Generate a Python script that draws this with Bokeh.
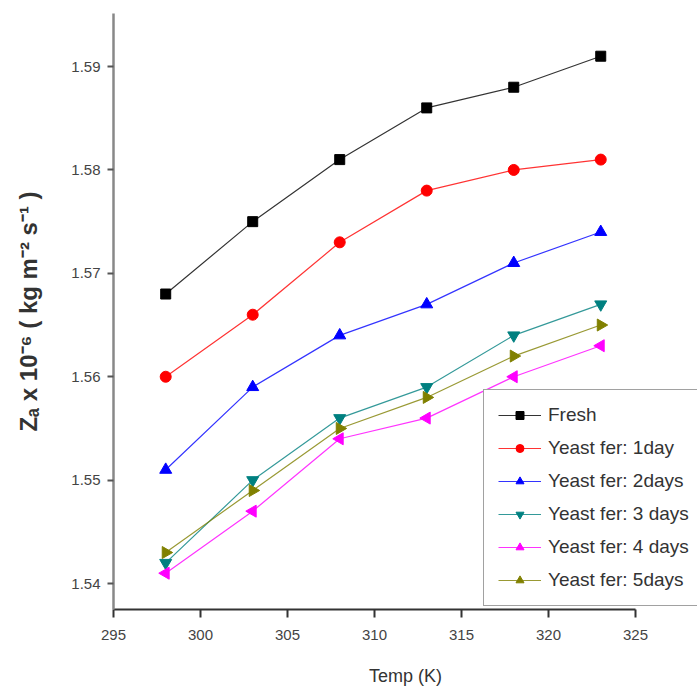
import math
from bokeh.plotting import figure
from bokeh.models import Legend, LegendItem, Range1d, FixedTicker
from bokeh.embed import file_html
from bokeh.resources import INLINE

temps = [298, 303, 308, 313, 318, 323]
fresh = [1.568, 1.575, 1.581, 1.586, 1.588, 1.591]
day1 = [1.560, 1.566, 1.573, 1.578, 1.580, 1.581]
day2 = [1.551, 1.559, 1.564, 1.567, 1.571, 1.574]
day3 = [1.542, 1.550, 1.556, 1.559, 1.564, 1.567]
day4 = [1.541, 1.547, 1.554, 1.556, 1.560, 1.563]
day5 = [1.543, 1.549, 1.555, 1.558, 1.562, 1.565]
series_labels = ["Fresh", "Yeast fer: 1day", "Yeast fer: 2days",
                 "Yeast fer: 3 days", "Yeast fer: 4 days", "Yeast fer: 5days"]
x_ticks = [295, 300, 305, 310, 315, 320, 325]
y_ticks = [1.54, 1.55, 1.56, 1.57, 1.58, 1.59]

FONT = "Liberation Sans"

p = figure(width=697, height=694, output_backend="svg", toolbar_location=None,
           x_range=Range1d(295, 328.56), y_range=Range1d(1.53749, 1.59513),
           min_border_left=113, min_border_right=0, min_border_top=13,
           min_border_bottom=85)
p.grid.visible = False
p.outline_line_color = None
p.background_fill_color = "white"
p.border_fill_color = "white"

styles = [
    (fresh, "#000000", "square", 0.0, 10),
    (day1, "#ff0000", "circle", 0.0, 11),
    (day2, "#0000ff", "triangle", 0.0, 12),
    (day3, "#008080", "inverted_triangle", 0.0, 12),
    (day4, "#ff00ff", "triangle", math.pi / 2, 12),
    (day5, "#808000", "triangle", -math.pi / 2, 12),
]

items = []
for (vals, col, mk, ang, sz), lab in zip(styles, series_labels):
    lr = p.line(temps, vals, line_color=col, line_width=1.2, line_alpha=0.8)
    sr = p.scatter(temps, vals, marker=mk, size=sz, angle=ang,
                   fill_color=col, line_color=col)
    items.append(LegendItem(label=lab, renderers=[lr, sr]))

legend = Legend(items=items, location=(370, 3), margin=0, padding=14,
                spacing=11, glyph_width=43, glyph_height=20, label_height=20,
                label_width=150, label_standoff=7,
                border_line_color="#444444", border_line_width=1.5,
                background_fill_color="white", background_fill_alpha=1.0,
                label_text_font=FONT, label_text_font_size="19px",
                label_text_color="#333333")
p.add_layout(legend, "center")

xa = p.xaxis[0]
xa.ticker = FixedTicker(ticks=x_ticks)
xa.bounds = (295, 325)
xa.axis_line_color = "#333333"
xa.axis_line_width = 2
xa.major_tick_line_color = "#333333"
xa.major_tick_line_width = 2
xa.major_tick_out = 8
xa.major_tick_in = 0
xa.minor_tick_out = 0
xa.minor_tick_in = 0
xa.major_label_text_font = FONT
xa.major_label_text_font_size = "15px"
xa.major_label_text_color = "#444444"
xa.major_label_standoff = 12
xa.axis_label = "Temp (K)"
xa.axis_label_text_font = FONT
xa.axis_label_text_font_size = "18px"
xa.axis_label_text_font_style = "normal"
xa.axis_label_text_color = "#333333"
xa.axis_label_standoff = 23

ya = p.yaxis[0]
ya.ticker = FixedTicker(ticks=y_ticks)
ya.axis_line_color = "#888888"
ya.axis_line_width = 2.5
ya.major_tick_line_color = "#555555"
ya.major_tick_line_width = 2
ya.major_tick_out = 6
ya.major_tick_in = 0
ya.minor_tick_out = 0
ya.minor_tick_in = 0
ya.major_label_text_font = FONT
ya.major_label_text_font_size = "15px"
ya.major_label_text_color = "#444444"
ya.major_label_standoff = 7
ya.axis_label = "Zₐ x 10⁻⁶ ( kg m⁻² s⁻¹ )"
ya.axis_label_text_font = FONT
ya.axis_label_text_font_size = "24px"
ya.axis_label_text_font_style = "bold"
ya.axis_label_text_color = "#333333"
ya.axis_label_standoff = 26

open("out.html", "w").write(file_html(p, INLINE))
